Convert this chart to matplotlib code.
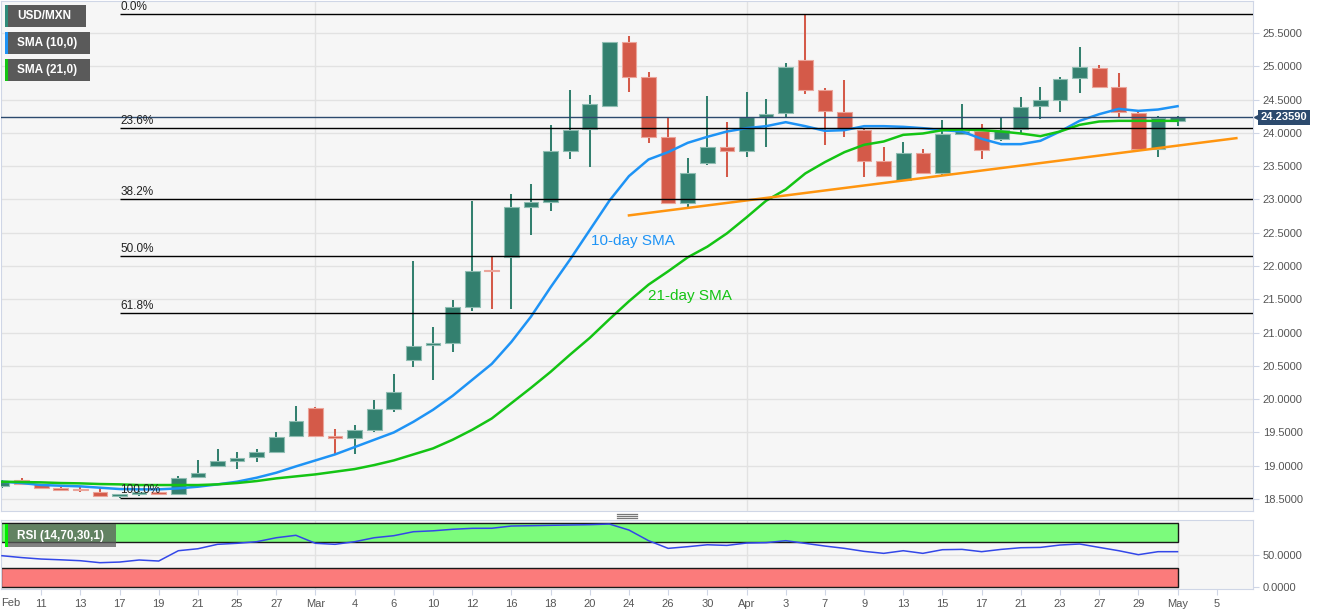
import matplotlib
matplotlib.use("Agg")
import matplotlib.pyplot as plt
from matplotlib.patches import Rectangle
from matplotlib.lines import Line2D

plt.rcParams['font.family'] = ['Liberation Sans', 'DejaVu Sans']

W, H = 1331, 615

# daily candles, Feb 7 -> May 1 (trading days)
opens = [18.70, 18.79, 18.72, 18.67, 18.645, 18.60, 18.55, 18.57, 18.60, 18.58,
         18.83, 19.00, 19.07, 19.13, 19.21, 19.44, 19.86, 19.43, 19.41, 19.53,
         19.85, 20.59, 20.81, 20.84, 21.39, 21.94, 22.13, 22.88, 22.96, 23.73,
         24.05, 24.41, 25.36, 24.84, 23.93, 22.95, 23.55, 23.79, 23.72, 24.24,
         24.30, 25.10, 24.64, 24.32, 24.04, 23.57, 23.29, 23.70, 23.39, 23.98,
         24.03, 23.90, 24.05, 24.40, 24.50, 24.82, 24.97, 24.69, 24.30, 23.76,
         24.18]
highs = [18.79, 18.81, 18.73, 18.68, 18.68, 18.66, 18.58, 18.62, 18.61, 18.85,
         19.09, 19.25, 19.20, 19.25, 19.51, 19.89, 19.88, 19.55, 19.61, 19.98,
         20.38, 22.07, 21.09, 21.49, 22.98, 22.13, 23.08, 23.23, 24.12, 24.64,
         24.57, 25.37, 25.45, 24.91, 24.24, 23.62, 24.55, 24.17, 24.62, 24.51,
         25.05, 25.78, 24.68, 24.79, 24.07, 23.79, 23.86, 23.76, 24.19, 24.43,
         24.13, 24.22, 24.54, 24.69, 24.84, 25.29, 25.02, 24.90, 24.32, 24.25,
         24.25]
lows = [18.67, 18.71, 18.65, 18.62, 18.60, 18.54, 18.52, 18.55, 18.57, 18.56,
        18.81, 18.99, 18.95, 19.06, 19.20, 19.43, 19.43, 19.18, 19.18, 19.50,
        19.81, 20.49, 20.29, 20.71, 21.33, 21.36, 21.36, 22.47, 22.82, 23.60,
        23.49, 24.39, 24.62, 23.85, 22.93, 22.89, 23.51, 23.34, 23.63, 23.78,
        24.22, 24.59, 23.82, 23.93, 23.33, 23.33, 23.28, 23.39, 23.37, 23.97,
        23.61, 23.87, 23.98, 24.21, 24.32, 24.60, 24.67, 24.22, 23.75, 23.64,
        24.11]
closes = [18.76, 18.72, 18.67, 18.64, 18.63, 18.55, 18.56, 18.60, 18.58, 18.82,
          18.89, 19.07, 19.12, 19.21, 19.43, 19.67, 19.44, 19.42, 19.53, 19.85,
          20.10, 20.80, 20.84, 21.39, 21.93, 21.92, 22.88, 22.96, 23.72, 24.04,
          24.43, 25.36, 24.84, 23.94, 22.95, 23.39, 23.79, 23.72, 24.24, 24.29,
          24.99, 24.64, 24.33, 24.07, 23.58, 23.35, 23.70, 23.40, 23.98, 24.02,
          23.74, 24.04, 24.39, 24.49, 24.81, 24.99, 24.69, 24.31, 23.76, 24.23,
          24.2359]

sma10 = [18.76, 18.74, 18.71, 18.70, 18.69, 18.67, 18.65, 18.645, 18.645, 18.66,
         18.685, 18.72, 18.76, 18.82, 18.895, 18.99, 19.08, 19.17, 19.28, 19.39,
         19.50, 19.66, 19.84, 20.05, 20.29, 20.53, 20.86, 21.24, 21.68, 22.10,
         22.54, 22.98, 23.35, 23.60, 23.71, 23.85, 23.94, 24.02, 24.07, 24.10,
         24.16, 24.10, 24.03, 24.04, 24.10, 24.10, 24.09, 24.07, 24.04, 24.02,
         23.91, 23.83, 23.83, 23.88, 24.02, 24.18, 24.28, 24.36, 24.33, 24.35,
         24.40]
sma21 = [18.76, 18.755, 18.75, 18.74, 18.735, 18.725, 18.72, 18.71, 18.71, 18.71,
         18.71, 18.72, 18.74, 18.77, 18.81, 18.84, 18.87, 18.91, 18.95, 19.01,
         19.08, 19.17, 19.26, 19.39, 19.54, 19.71, 19.94, 20.17, 20.41, 20.67,
         20.92, 21.20, 21.47, 21.72, 21.92, 22.13, 22.29, 22.49, 22.73, 22.98,
         23.15, 23.39, 23.56, 23.71, 23.82, 23.87, 23.97, 23.99, 24.04, 24.05,
         24.04, 24.02, 23.99, 23.95, 24.02, 24.12, 24.17, 24.18, 24.18, 24.18,
         24.18]
rsi = [48.9, 46.0, 43.7, 42.5, 41.1, 38.0, 39.0, 42.2, 40.6, 56.7,
       59.8, 66.7, 68.3, 70.8, 77.0, 80.8, 68.3, 66.7, 70.8, 77.0,
       80.2, 86.4, 87.8, 90.2, 91.7, 91.8, 95.3, 95.8, 96.4, 96.9,
       97.4, 98.4, 89.0, 72.4, 60.4, 63.0, 66.0, 65.0, 68.7, 69.3,
       72.4, 68.2, 64.0, 60.4, 55.7, 52.6, 56.7, 52.6, 58.3, 58.8,
       55.2, 58.8, 61.4, 61.9, 65.6, 67.2, 61.9, 56.7, 50.5, 55.2,
       55.2]

fib_low, fib_high = 18.52, 25.78
fib_ratios = [0.0, 0.236, 0.382, 0.5, 0.618, 1.0]
fib_names = ["0.0%", "23.6%", "38.2%", "50.0%", "61.8%", "100.0%"]
fib_start = 6

trend_x = [32, 63]
trend_y = [22.76, 23.92]

last_price = 24.2359

tick_pos = [2, 4, 6, 8, 10, 12, 14, 16, 18, 20, 22, 24, 26, 28, 30, 32, 34,
            36, 38, 40, 42, 44, 46, 48, 50, 52, 54, 56, 58, 60, 62]
tick_lbl = ["11", "13", "17", "19", "21", "25", "27", "Mar", "4", "6", "10",
            "12", "16", "18", "20", "24", "26", "30", "Apr", "3", "7", "9",
            "13", "15", "17", "21", "23", "27", "29", "May", "5"]
month_pos = [16, 38, 60]

UP = "#33806f"
DOWN = "#d45a49"
BG = "#f6f6f6"
SPINE = "#cfd6e6"
GRID = "#e2e2e2"
XMIN, XMAX = -0.05, 63.85

fig = plt.figure(figsize=(W / 100, H / 100), dpi=100)
ax = fig.add_axes([1 / W, 1 - 511 / H, 1252 / W, 510 / H])
ax2 = fig.add_axes([1 / W, 1 - 589 / H, 1252 / W, 69 / H])

for a in (ax, ax2):
    a.set_facecolor(BG)
    a.set_xlim(XMIN, XMAX)
    for s in a.spines.values():
        s.set_color(SPINE)
    a.yaxis.tick_right()
    a.tick_params(axis='y', colors=SPINE, labelcolor="#555555", labelsize=8, length=4, pad=3)
    for m in month_pos:
        a.axvline(m, color=GRID, lw=1, zorder=0)

# main price panel
ax.set_ylim(18.32, 25.98)
yt = [18.5 + 0.5 * k for k in range(15)]
ax.set_yticks(yt)
ax.set_yticklabels([f"{v:.4f}" for v in yt])
ax.set_xticks([])
for v in yt:
    ax.axhline(v, color=GRID, lw=1, zorder=0)

xs = list(range(len(closes)))
for i in xs:
    o, h, l, c = opens[i], highs[i], lows[i], closes[i]
    col = UP if c >= o else DOWN
    edge = "#8fbdb2" if c >= o else "#eba49a"
    ax.vlines(i, l, h, color=col, lw=1.45, zorder=2)
    body = max(abs(c - o), 0.025)
    ax.bar(i, body, bottom=min(o, c), width=0.75, color=col, edgecolor=edge,
           linewidth=0.8, zorder=3)

ax.plot(xs, sma10, color="#1e93f5", lw=1.8, zorder=4)
ax.plot(xs, sma21, color="#14c414", lw=1.8, zorder=4)
ax.plot(trend_x, trend_y, color="#ff950f", lw=1.8, zorder=4)

for r, name in zip(fib_ratios, fib_names):
    lvl = fib_high - r * (fib_high - fib_low)
    ax.hlines(lvl, fib_start, XMAX, color="black", lw=1, zorder=5)
    ax.text(fib_start + 0.05, lvl + 0.02, name, fontsize=8.5, color="#222222",
            va='bottom', ha='left', zorder=6)

ax.axhline(last_price, color="#2c4a6e", lw=1, zorder=5)
ax.text(1.006, last_price, f"{last_price:.5f}", transform=ax.get_yaxis_transform(),
        color="white", fontsize=8, fontweight='bold', va='center', ha='left',
        bbox=dict(boxstyle='square,pad=0.22', fc="#2c4a6e", ec="none"), zorder=10)
ax.plot([1.0035], [last_price], marker='<', ms=4, color="#2c4a6e",
        transform=ax.get_yaxis_transform(), clip_on=False, zorder=10)

ax.text(30.05, 22.38, "10-day SMA", color="#1e93f5", fontsize=11, va='center', zorder=6)
ax.text(32.95, 21.55, "21-day SMA", color="#14c414", fontsize=11, va='center', zorder=6)

# RSI panel
ax2.set_ylim(-3.1, 104.7)
ax2.set_yticks([0, 50])
ax2.set_yticklabels(["0.0000", "50.0000"])
ax2.axhline(50, color=GRID, lw=1, zorder=0)
ax2.add_patch(Rectangle((XMIN, 70), 60 - XMIN, 30, fc="#7cfb7c", ec="#1a1a1a", lw=1, zorder=1))
ax2.add_patch(Rectangle((XMIN, 0), 60 - XMIN, 30, fc="#fb7b7b", ec="#1a1a1a", lw=1, zorder=1))
ax2.plot(xs, rsi, color="#3347e8", lw=1.1, zorder=3)
ax2.set_xticks(tick_pos)
ax2.set_xticklabels(tick_lbl)
ax2.tick_params(axis='x', colors=SPINE, labelcolor="#555555", labelsize=8, length=4, pad=3)
fig.text(1 / W, 1 - 603 / H, "Feb", fontsize=8, color="#555555", va='center', ha='left')

# legend tags
def px(x, y):
    return x / W, 1 - y / H

def tag(x0, y0, w, h, stripe, label, alpha=1.0):
    fx, fy = px(x0, y0 + h)
    fig.patches.append(Rectangle((fx, fy), w / W, h / H, transform=fig.transFigure,
                                 fc="#5a5a5a", ec="none", alpha=alpha, zorder=20))
    fig.patches.append(Rectangle((fx, fy), 2.5 / W, h / H, transform=fig.transFigure,
                                 fc=stripe, ec="none", zorder=21))
    tx, ty = px(x0 + 12, y0 + h / 2)
    fig.text(tx, ty, label, color="white", fontsize=8.5, fontweight='bold',
             va='center', ha='left', zorder=22)

tag(5, 5, 81, 22, "#2e8b7a", "USD/MXN")
tag(5, 32, 85, 22, "#1e93f5", "SMA (10,0)")
tag(5, 59, 85, 22, "#14c414", "SMA (21,0)")
tag(5, 524, 111, 23, "#00ee00", "RSI (14,70,30,1)", alpha=0.75)

# panel resize handle
for yy in (514, 516, 518):
    x0, y0 = px(617, yy)
    x1, _ = px(637, yy)
    fig.lines.append(Line2D([x0, x1], [y0, y0], transform=fig.transFigure,
                            color="#777777", lw=0.9))

fig.savefig("out.png", dpi=100, facecolor="white")
